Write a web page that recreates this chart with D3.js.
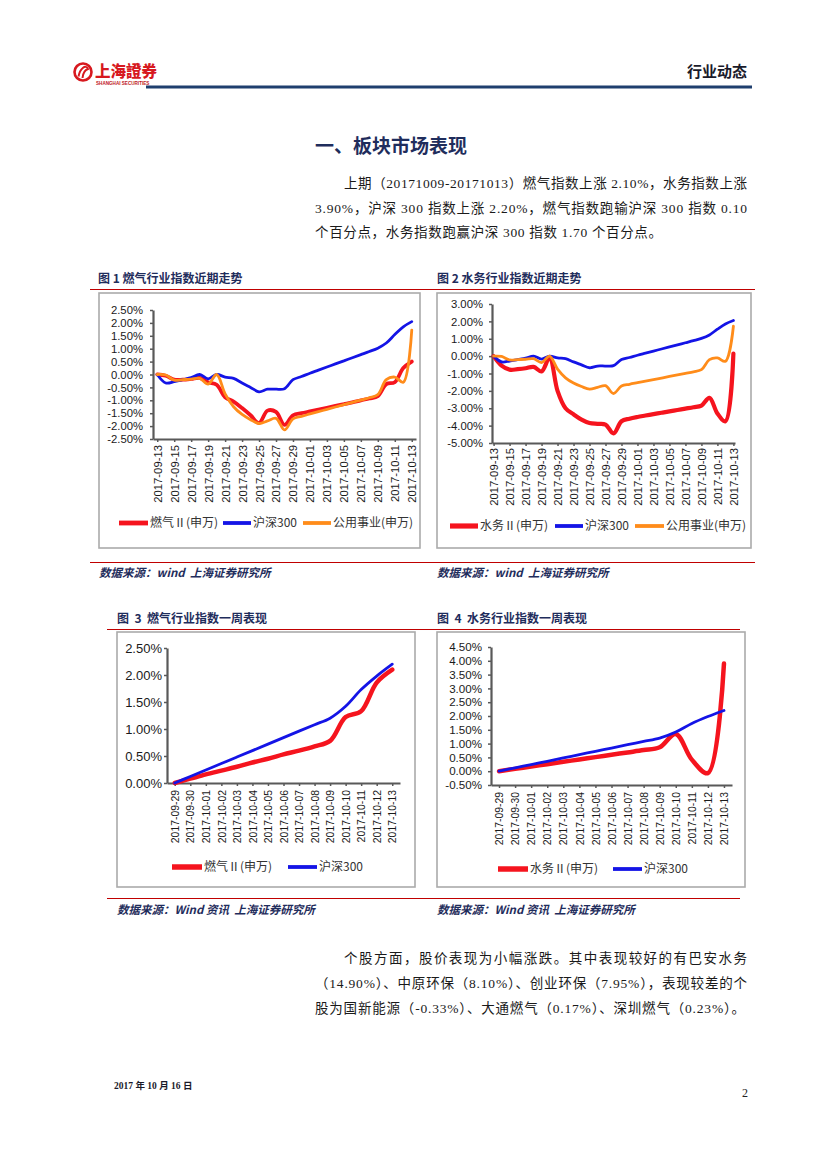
<!DOCTYPE html>
<html><head><meta charset="utf-8">
<script src="https://cdn.jsdelivr.net/npm/d3@7"></script>
<style>
body{margin:0;background:#fff;}
svg text{font-family:"Liberation Sans",Arial,sans-serif;}
</style></head><body>
<svg id="page" width="827" height="1169"></svg>
<script>
// ---------------- DATA ----------------
const dates1 = ["2017-09-13","2017-09-14","2017-09-15","2017-09-16","2017-09-17","2017-09-18","2017-09-19","2017-09-20","2017-09-21","2017-09-22","2017-09-23","2017-09-24","2017-09-25","2017-09-26","2017-09-27","2017-09-28","2017-09-29","2017-09-30","2017-10-01","2017-10-02","2017-10-03","2017-10-04","2017-10-05","2017-10-06","2017-10-07","2017-10-08","2017-10-09","2017-10-10","2017-10-11","2017-10-12","2017-10-13"];
const ticks1 = ["2017-09-13","2017-09-15","2017-09-17","2017-09-19","2017-09-21","2017-09-23","2017-09-25","2017-09-27","2017-09-29","2017-10-01","2017-10-03","2017-10-05","2017-10-07","2017-10-09","2017-10-11","2017-10-13"];
const gasMonth   = [0,-0.05,-0.2,-0.2,-0.17,-0.13,-0.3,-0.4,-0.88,-1.05,-1.3,-1.58,-1.88,-1.4,-1.45,-1.95,-1.58,-1.5,-1.43,-1.36,-1.29,-1.22,-1.15,-1.08,-1.0,-0.93,-0.84,-0.37,-0.3,0.25,0.5];
const hs300Month = [0,-0.33,-0.28,-0.2,-0.12,0.0,-0.17,0.0,-0.1,-0.15,-0.33,-0.5,-0.67,-0.57,-0.57,-0.55,-0.2,-0.08,0.05,0.17,0.29,0.41,0.53,0.65,0.77,0.89,1.02,1.22,1.55,1.85,2.05];
const utilMonth  = [0,-0.02,-0.22,-0.2,-0.18,-0.15,-0.37,0.0,-0.75,-1.25,-1.55,-1.75,-1.9,-1.8,-1.7,-2.15,-1.72,-1.62,-1.53,-1.44,-1.35,-1.26,-1.17,-1.08,-0.99,-0.9,-0.78,-0.2,-0.1,-0.3,1.72];
const waterMonth = [0,-0.55,-0.78,-0.75,-0.7,-0.62,-0.88,-0.1,-2.0,-3.0,-3.35,-3.65,-3.85,-3.9,-3.94,-4.45,-3.75,-3.6,-3.5,-3.42,-3.34,-3.26,-3.18,-3.1,-3.02,-2.94,-2.85,-2.4,-3.3,-3.75,0.15];

const dates3 = ["2017-09-29","2017-09-30","2017-10-01","2017-10-02","2017-10-03","2017-10-04","2017-10-05","2017-10-06","2017-10-07","2017-10-08","2017-10-09","2017-10-10","2017-10-11","2017-10-12","2017-10-13"];
const gasWeek   = [0,0.08,0.16,0.23,0.3,0.38,0.45,0.53,0.6,0.68,0.78,1.22,1.33,1.86,2.1];
const hs300Week = [0,0.12,0.24,0.36,0.48,0.6,0.72,0.84,0.96,1.08,1.2,1.42,1.73,1.98,2.2];
const waterWeek = [0,0.085,0.17,0.255,0.34,0.425,0.51,0.595,0.68,0.765,0.87,1.35,0.42,-0.07,3.9];

const yTicks1 = [-2.5,-2,-1.5,-1,-0.5,0,0.5,1,1.5,2,2.5];
const yTicks2 = [-5,-4,-3,-2,-1,0,1,2,3];
const yTicks3 = [0,0.5,1,1.5,2,2.5];
const yTicks4 = [-0.5,0,0.5,1,1.5,2,2.5,3,3.5,4,4.5];

const RED = "#F5141E", BLUE = "#1414E6", ORANGE = "#FF8C1A";
const NAVY = "#1F2D5C";
const CJK = '"Noto Sans CJK SC", sans-serif';
const SERIF = '"Liberation Serif", "Noto Sans CJK SC", serif';

const svg = d3.select("#page");

// ---------------- HEADER ----------------
const logo = svg.append("g");
logo.append("circle").attr("cx",83).attr("cy",72).attr("r",8.5).attr("fill","none").attr("stroke","#D7191F").attr("stroke-width",2.6);
logo.append("path").attr("d","M78.5 76.5 C80 68 86 64 88 69 C85 70 83 73 82.5 78").attr("fill","none").attr("stroke","#D7191F").attr("stroke-width",2);
logo.append("text").attr("x",95).attr("y",77).text("上海證券")
  .style("font-family",CJK).style("font-weight","900").style("font-size","15.5px").attr("fill","#D7191F");
logo.append("text").attr("x",96).attr("y",84.5).text("SHANGHAI SECURITIES")
  .style("font-size","4.6px").style("font-weight","bold").attr("fill","#C0181E");
svg.append("text").attr("x",747).attr("y",77).attr("text-anchor","end").text("行业动态")
  .style("font-family",CJK).style("font-weight","bold").style("font-size","15px").attr("fill","#1a1a2a");
svg.append("line").attr("x1",146).attr("x2",752).attr("y1",87).attr("y2",87).attr("stroke","#1F3F6E").attr("stroke-width",3);

// ---------------- TEXT ----------------
svg.append("text").attr("x",315).attr("y",153).text("一、板块市场表现")
  .style("font-family",CJK).style("font-weight","bold").style("font-size","19px").attr("fill",NAVY);

function para(x,y,str,len){
  const t = svg.append("text").attr("x",x).attr("y",y).text(str)
    .style("font-family",SERIF).style("font-size","13.5px").attr("fill","#1a1a1a");
  if(len) t.attr("textLength",len).attr("lengthAdjust","spacing");
}
para(344,188,"上期（20171009-20171013）燃气指数上涨 2.10%，水务指数上涨",403);
para(315,213,"3.90%，沪深 300 指数上涨 2.20%，燃气指数跑输沪深 300 指数 0.10",432);
para(315,237,"个百分点，水务指数跑赢沪深 300 指数 1.70 个百分点。",347);
para(344,963,"个股方面，股价表现为小幅涨跌。其中表现较好的有巴安水务",403);
para(315,988,"（14.90%）、中原环保（8.10%）、创业环保（7.95%），表现较差的个",432);
para(315,1013,"股为国新能源（-0.33%）、大通燃气（0.17%）、深圳燃气（0.23%）。",430);

// figure titles and rules
function figTitle(x,y,str){
  svg.append("text").attr("x",x).attr("y",y).text(str).style("white-space","pre")
    .style("font-family",CJK).style("font-weight","bold").style("font-size","12px").attr("fill",NAVY);
}
figTitle(98,283,"图 1 燃气行业指数近期走势");
figTitle(437,283,"图 2 水务行业指数近期走势");
figTitle(117,623,"图  3  燃气行业指数一周表现");
figTitle(437,623,"图  4  水务行业指数一周表现");
function rule(x1,x2,y){ svg.append("line").attr("x1",x1).attr("x2",x2).attr("y1",y).attr("y2",y).attr("stroke","#C00000").attr("stroke-width",1); }
rule(90,755,289.5); rule(90,755,562.5); rule(107,740,629.5); rule(107,740,898.5);

function source(x,y,str){
  svg.append("text").attr("x",x).attr("y",y).text(str).style("white-space","pre")
    .style("font-family",CJK).style("font-weight","bold").style("font-style","italic").style("font-size","11.5px").attr("fill",NAVY);
}
source(99,577,"数据来源：wind  上海证券研究所");
source(437,577,"数据来源：wind  上海证券研究所");
source(117,914,"数据来源：Wind 资讯  上海证券研究所");
source(437,914,"数据来源：Wind 资讯  上海证券研究所");

// footer
svg.append("text").attr("x",114).attr("y",1089).text("2017 年 10 月 16 日")
  .style("font-family",SERIF).style("font-weight","bold").style("font-size","9.5px").attr("fill","#1a1a2a");
svg.append("text").attr("x",748).attr("y",1097).attr("text-anchor","end").text("2")
  .style("font-family",SERIF).style("font-size","12px").attr("fill","#222");

// ---------------- CHARTS ----------------
function chart(o){
  const g = svg.append("g");
  g.append("rect").attr("x",o.box[0]).attr("y",o.box[1]).attr("width",o.box[2]-o.box[0]).attr("height",o.box[3]-o.box[1])
    .attr("fill","#fff").attr("stroke","#ABABAB").attr("stroke-width",1.6);
  const y = d3.scaleLinear().domain([o.yTicks[0], o.yTicks[o.yTicks.length-1]]).range([o.yBottom,o.yTop]);
  const x = d3.scalePoint().domain(o.dates).range([o.axisX,o.xEnd]).padding(o.pad);

  const line = d3.line().x((d,i)=>x(o.dates[i])).y(d=>y(d)).curve(d3.curveCatmullRom.alpha(0.5));

  const ya = g.append("g").attr("transform",`translate(${o.axisX},0)`)
    .call(d3.axisLeft(y).tickValues(o.yTicks).tickFormat(d=>d.toFixed(2)+"%").tickSizeInner(3).tickSizeOuter(0).tickPadding(o.yPad));
  ya.selectAll("text").style("font-size",o.yFont+"px").attr("fill","#1a1a1a");
  const xa = g.append("g").attr("transform",`translate(0,${o.yBottom})`)
    .call(d3.axisBottom(x).tickValues(o.xTicks).tickSizeInner(3).tickSizeOuter(0));
  xa.selectAll("text").attr("transform","rotate(-90)").attr("text-anchor","end")
    .attr("x",-o.xGap).attr("y",0).attr("dy","0.35em").style("font-size",o.xFont+"px").attr("fill","#1a1a1a");
  [ya,xa].forEach(a=>{
    a.select(".domain").attr("stroke","#595959").attr("stroke-width",2.2);
    a.selectAll(".tick line").attr("stroke","#595959").attr("stroke-width",1.5);
  });

  o.series.forEach(s=>{
    g.append("path").datum(s.values).attr("d",line).attr("fill","none").attr("stroke",s.color)
      .attr("stroke-width",s.width).attr("stroke-linejoin","round").attr("stroke-linecap","round");
  });
  // legend
  o.series.forEach(s=>{
    g.append("line").attr("x1",s.lg[0]).attr("x2",s.lg[1]).attr("y1",o.legendY).attr("y2",o.legendY)
      .attr("stroke",s.color).attr("stroke-width",s.width+1);
    g.append("text").attr("x",s.lg[1]+2).attr("y",o.legendY).attr("dy","0.36em").text(s.name)
      .style("font-family",CJK).style("font-size","12px").attr("fill","#333");
  });
}

chart({box:[99,293,420,548], dates:dates1, xTicks:ticks1, yTicks:yTicks1,
  axisX:153, xEnd:416, pad:0.5, yBottom:439, yTop:310, yPad:7, yFont:11.3, xFont:11.3, xGap:6, legendY:523,
  series:[
    {name:"燃气Ⅱ(申万)", values:gasMonth, color:RED, width:3.8, lg:[119,148]},
    {name:"沪深300", values:hs300Month, color:BLUE, width:2.8, lg:[223,251]},
    {name:"公用事业(申万)", values:utilMonth, color:ORANGE, width:2.8, lg:[303,331]}
  ]});

chart({box:[437,293,751,548], dates:dates1, xTicks:ticks1, yTicks:yTicks2,
  axisX:492, xEnd:735, pad:0.2, yBottom:443, yTop:304, yPad:6, yFont:11.3, xFont:11.3, xGap:5, legendY:526,
  series:[
    {name:"水务Ⅱ(申万)", values:waterMonth, color:RED, width:4.2, lg:[450,478]},
    {name:"沪深300", values:hs300Month, color:BLUE, width:2.8, lg:[555,583]},
    {name:"公用事业(申万)", values:utilMonth, color:ORANGE, width:2.8, lg:[635,664]}
  ]});

chart({box:[117,632,415,887], dates:dates3, xTicks:dates3, yTicks:yTicks3,
  axisX:167, xEnd:400, pad:0.5, yBottom:783, yTop:648, yPad:2, yFont:13, xFont:10.4, xGap:7, legendY:867,
  series:[
    {name:"燃气Ⅱ(申万)", values:gasWeek, color:RED, width:4.5, lg:[172,202]},
    {name:"沪深300", values:hs300Week, color:BLUE, width:2.8, lg:[288,317]}
  ]});

chart({box:[437,632,745,887], dates:dates3, xTicks:dates3, yTicks:yTicks4,
  axisX:491, xEnd:732, pad:0.5, yBottom:785, yTop:647, yPad:6, yFont:11.6, xFont:10.4, xGap:7, legendY:869,
  series:[
    {name:"水务Ⅱ(申万)", values:waterWeek, color:RED, width:4.5, lg:[498,528]},
    {name:"沪深300", values:hs300Week, color:BLUE, width:2.8, lg:[613,642]}
  ]});
</script></body></html>
